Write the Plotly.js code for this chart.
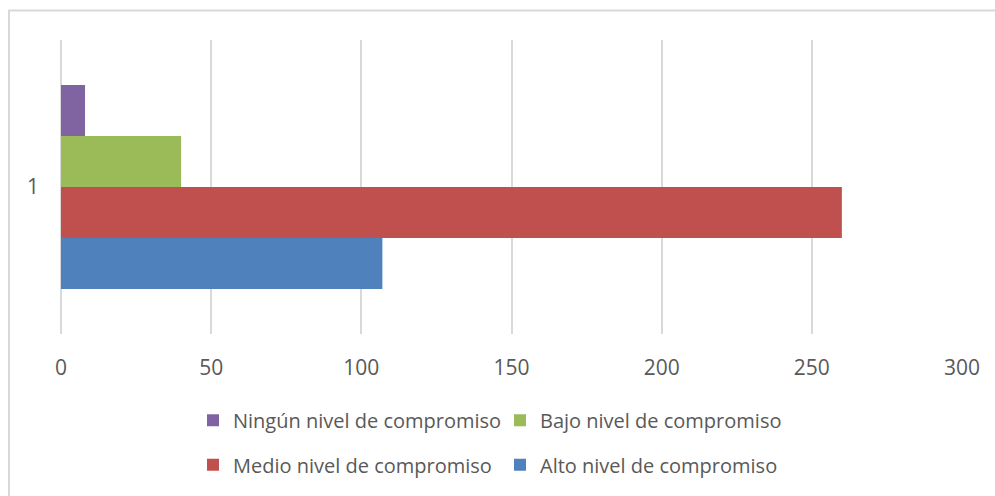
<!DOCTYPE html>
<html>
<head>
<meta charset="utf-8">
<script src="https://cdn.plot.ly/plotly-3.0.1.min.js"></script>
<style>html,body{margin:0;padding:0;background:#fff;}#chart{width:995px;height:496px;}</style>
</head>
<body>
<div id="chart"></div>
<script>
var categories = ['1'];
var seriesNames = ['Alto nivel de compromiso', 'Medio nivel de compromiso', 'Bajo nivel de compromiso', 'Ningún nivel de compromiso'];
var altoValues = [107];
var medioValues = [260];
var bajoValues = [40];
var ningunValues = [8];
var xTickValues = [0, 50, 100, 150, 200, 250, 300];

var colors = ['#4F81BD', '#C0504D', '#9BBB59', '#8064A2'];
var legendIds = ['legend2', 'legend2', 'legend', 'legend'];
var valuesList = [altoValues, medioValues, bajoValues, ningunValues];

var traces = seriesNames.map(function(name, i) {
  return {
    type: 'bar', orientation: 'h', name: name,
    y: categories, x: valuesList[i],
    marker: {color: colors[i], line: {width: 0}},
    legend: legendIds[i],
    hoverinfo: 'x+name'
  };
});

var fontFam = '"Open Sans", sans-serif';
var legendCommon = {
  orientation: 'h', xanchor: 'left', yanchor: 'middle', x: 0.1465,
  traceorder: 'reversed', entrywidth: 262, entrywidthmode: 'pixels',
  font: {family: fontFam, size: 20, color: '#595959'},
  bgcolor: 'rgba(0,0,0,0)', borderwidth: 0
};
var legend1 = Object.assign({}, legendCommon, {y: -0.293});
var legend2 = Object.assign({}, legendCommon, {y: -0.445});

var layout = {
  width: 995, height: 496,
  margin: {l: 61, r: 33, t: 40, b: 159},
  paper_bgcolor: '#fff', plot_bgcolor: '#fff',
  barmode: 'group', bargap: 0.306, bargroupgap: 0,
  font: {family: fontFam, color: '#595959', size: 21},
  xaxis: {
    range: [0, 300], tickvals: xTickValues, ticktext: xTickValues.map(String),
    showgrid: true, gridcolor: '#d9d9d9', gridwidth: 2,
    zeroline: true, zerolinecolor: '#d9d9d9', zerolinewidth: 2,
    showline: false, ticks: '', ticklabelstandoff: 19,
    tickfont: {family: fontFam, size: 21, color: '#595959'},
    fixedrange: true
  },
  yaxis: {
    type: 'category', showgrid: false, zeroline: false, showline: false,
    ticks: '', ticklabelstandoff: 21,
    tickfont: {family: fontFam, size: 21, color: '#595959'},
    fixedrange: true
  },
  showlegend: true,
  legend: legend1,
  legend2: legend2,
  shapes: [{
    type: 'rect', xref: 'paper', yref: 'paper', layer: 'below',
    x0: -0.0577, x1: 1.05, y0: -0.6, y1: 1.1,
    line: {color: '#d9d9d9', width: 2}, fillcolor: 'rgba(0,0,0,0)'
  }]
};

Plotly.newPlot('chart', traces, layout, {displayModeBar: false, staticPlot: true});
</script>
</body>
</html>
